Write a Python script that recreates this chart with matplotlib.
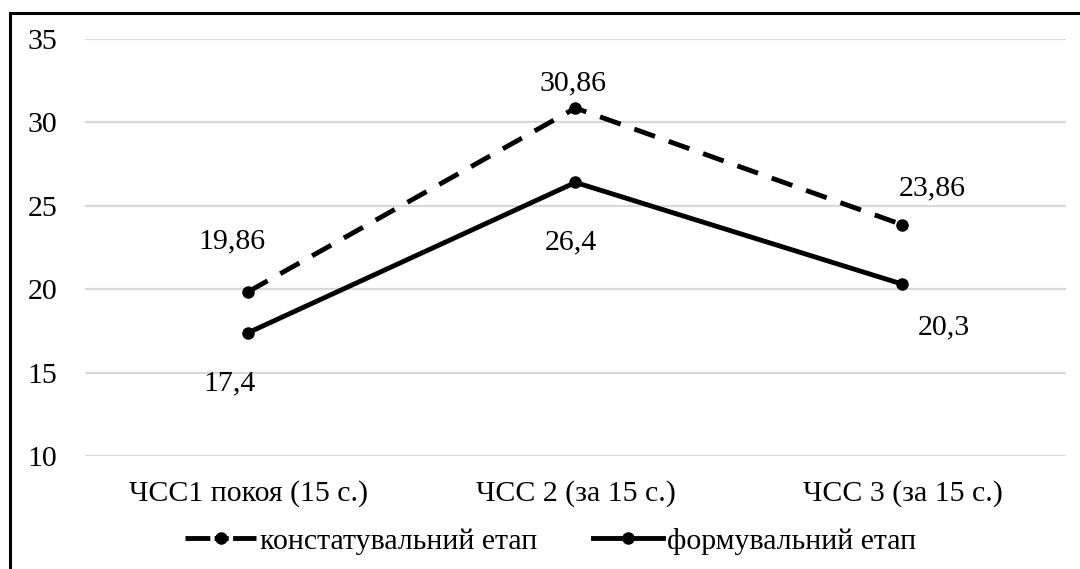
import matplotlib.pyplot as plt
from matplotlib.lines import Line2D

# === Data ===
categories = ["ЧСС1 покоя (15 с.)", "ЧСС 2 (за 15 с.)", "ЧСС 3 (за 15 с.)"]
konst = [19.86, 30.86, 23.86]
form = [17.4, 26.4, 20.3]
konst_labels = ["19,86", "30,86", "23,86"]
form_labels = ["17,4", "26,4", "20,3"]
series_names = ["констатувальний етап", "формувальний етап"]

plt.rcParams['font.family'] = ['Liberation Serif', 'DejaVu Serif']
FS = 21.5
LW = 3.5

fig = plt.figure(figsize=(10.8, 5.69), dpi=100)
ax = fig.add_axes([0.0787, 0.1986, 0.9083, 0.7329])

x = range(len(categories))
ax.plot(x, konst, color='black', lw=LW, linestyle=(0, (4.5, 3)),
        marker='o', ms=8)
ax.plot(x, form, color='black', lw=LW, marker='o', ms=8)

# data labels (offsets in pixels, as placed in the original)
konst_off = [(-17, 50), (-3, 25), (30, 36)]
form_off = [(-19, -51), (-5, -60), (41, -43)]
for i in x:
    ax.annotate(konst_labels[i], (i, konst[i]), xytext=konst_off[i],
                textcoords='offset pixels', ha='center', va='center', fontsize=FS)
    ax.annotate(form_labels[i], (i, form[i]), xytext=form_off[i],
                textcoords='offset pixels', ha='center', va='center', fontsize=FS)

ax.set_xlim(-0.5, 2.5)
ax.set_ylim(10, 35)
ax.set_yticks(range(10, 36, 5))
ax.set_xticks(list(x))
ax.set_xticklabels(categories)
ax.tick_params(axis='both', length=0, labelsize=FS)
ax.tick_params(axis='y', pad=20)
ax.tick_params(axis='x', pad=17)
ax.grid(axis='y', color='#d9d9d9', lw=1.6)
ax.set_axisbelow(True)
for s in ax.spines.values():
    s.set_visible(False)

# legend keys: dash - marker - dash like the Excel key
h1 = Line2D([], [], color='black', lw=LW, marker='o', ms=8,
            linestyle=(0, (5.1, 0.9, 2.9, 0.9, 5.1, 3)))
h2 = Line2D([], [], color='black', lw=LW, marker='o', ms=8)
ax.legend([h1, h2], series_names, loc='center', bbox_to_anchor=(0.475, -0.204),
          ncol=2, frameon=False, fontsize=FS, handlelength=2.35,
          handletextpad=0.15, columnspacing=1.85)

# frame around the chart (only top and left visible in the crop)
fig.add_artist(Line2D([10 / 1080, 10 / 1080], [0, 1 - 13 / 569], color='black', lw=2.2))
fig.add_artist(Line2D([10 / 1080, 1], [1 - 13 / 569, 1 - 13 / 569], color='black', lw=2.2))

plt.savefig("out.png", dpi=100)
